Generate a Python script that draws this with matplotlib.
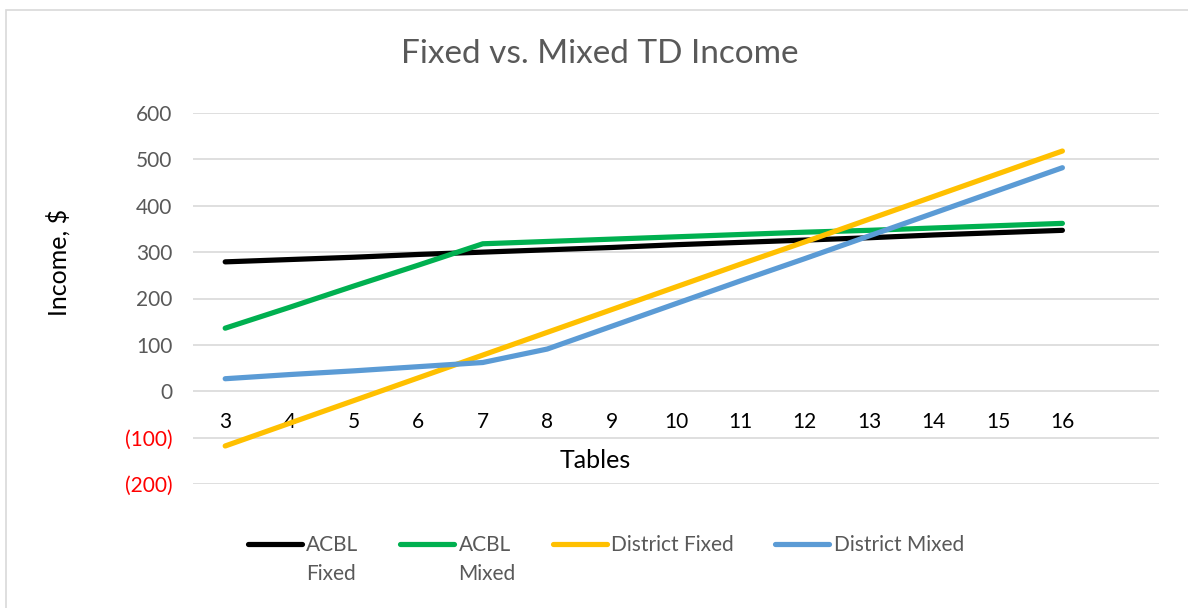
import numpy as np
import matplotlib.pyplot as plt
from matplotlib.patches import Rectangle

plt.rcParams['font.family'] = ['Lato', 'DejaVu Sans']

# data
tables = [3, 4, 5, 6, 7, 8, 9, 10, 11, 12, 13, 14, 15, 16]
acbl_fixed = [279, 284, 289, 295, 300, 305, 310, 316, 321, 326, 331, 337, 342, 347]
acbl_mixed = [136, 181, 227, 272, 318, 323, 328, 333, 338, 343, 347, 352, 357, 362]
district_fixed = [-118, -69, -20, 29, 78, 127, 176, 225, 274, 322, 371, 420, 469, 518]
district_mixed = [27, 36, 44, 53, 62, 91, 140, 189, 238, 286, 335, 384, 433, 482]
y_ticks = [-200, -100, 0, 100, 200, 300, 400, 500, 600]

series = [
    ("ACBL", acbl_fixed, "#000000"),
    ("ACBL", acbl_mixed, "#00B050"),
    ("District Fixed", district_fixed, "#FFC000"),
    ("District Mixed", district_mixed, "#5B9BD5"),
]

W, H = 1188, 608
fig = plt.figure(figsize=(W / 100, H / 100), dpi=100)
ax = fig.add_axes([193 / W, 1 - 484 / H, (1159 - 193) / W, (484 - 113) / H])

x = np.arange(len(tables))
for name, vals, col in series:
    ax.plot(x, vals, color=col, lw=3.75, solid_capstyle='round',
            solid_joinstyle='round', label=name)

ax.set_xlim(-0.5, len(tables) + 0.5)
ax.set_ylim(-200, 600)
ax.set_yticks(y_ticks)
ax.set_yticklabels([f"({abs(v)})" if v < 0 else str(v) for v in y_ticks])
for v, lab in zip(y_ticks, ax.get_yticklabels()):
    lab.set_color('#FF0000' if v < 0 else '#595959')
ax.set_xticks(x)
ax.set_xticklabels([str(t) for t in tables], color='#595959')
ax.tick_params(axis='both', length=0, labelsize=15)
ax.tick_params(axis='y', pad=15)
ax.tick_params(axis='x', pad=15)
ax.spines['bottom'].set_position(('data', 0))
for s in ax.spines.values():
    s.set_visible(False)
ax.yaxis.grid(True, color='#D9D9D9', lw=1.2)
ax.set_axisbelow(True)

ax.set_xlabel("Tables", fontsize=18, color='black')
ax.xaxis.set_label_coords((595 - 193) / 966, 23 / 371)
ax.xaxis.label.set_va('center')
ax.set_ylabel("Income, $", fontsize=18, color='black')
ax.yaxis.set_label_coords((58 - 193) / 966, (484 - 262) / 371)
ax.yaxis.label.set_va('center')

fig.text(600 / W, 1 - 54 / H, "Fixed vs. Mixed TD Income", fontsize=24,
         color='#595959', ha='center', va='center')

leg = fig.legend(loc='center left', bbox_to_anchor=(248 / W, 1 - 545 / H),
                 ncol=4, frameon=False, fontsize=15, handlelength=2.6,
                 handletextpad=0.2, columnspacing=2.0, borderpad=0,
                 borderaxespad=0)
for t in leg.get_texts():
    t.set_color('#595959')

# second line of the wrapped ACBL legend labels
fig.canvas.draw()
r = fig.canvas.get_renderer()
for t, extra in zip(leg.get_texts()[:2], ["Fixed", "Mixed"]):
    bb = t.get_window_extent(r)
    fig.text(bb.x0 / W, 1 - 574 / H, extra, fontsize=15, color='#595959',
             ha='left', va='center')

fig.patches.append(Rectangle((6 / W, -0.1), 1.2, 0.1 + 1 - 10 / H, fill=False,
                             edgecolor='#D9D9D9', lw=1.2,
                             transform=fig.transFigure, figure=fig))

fig.savefig("out.png", dpi=100)
